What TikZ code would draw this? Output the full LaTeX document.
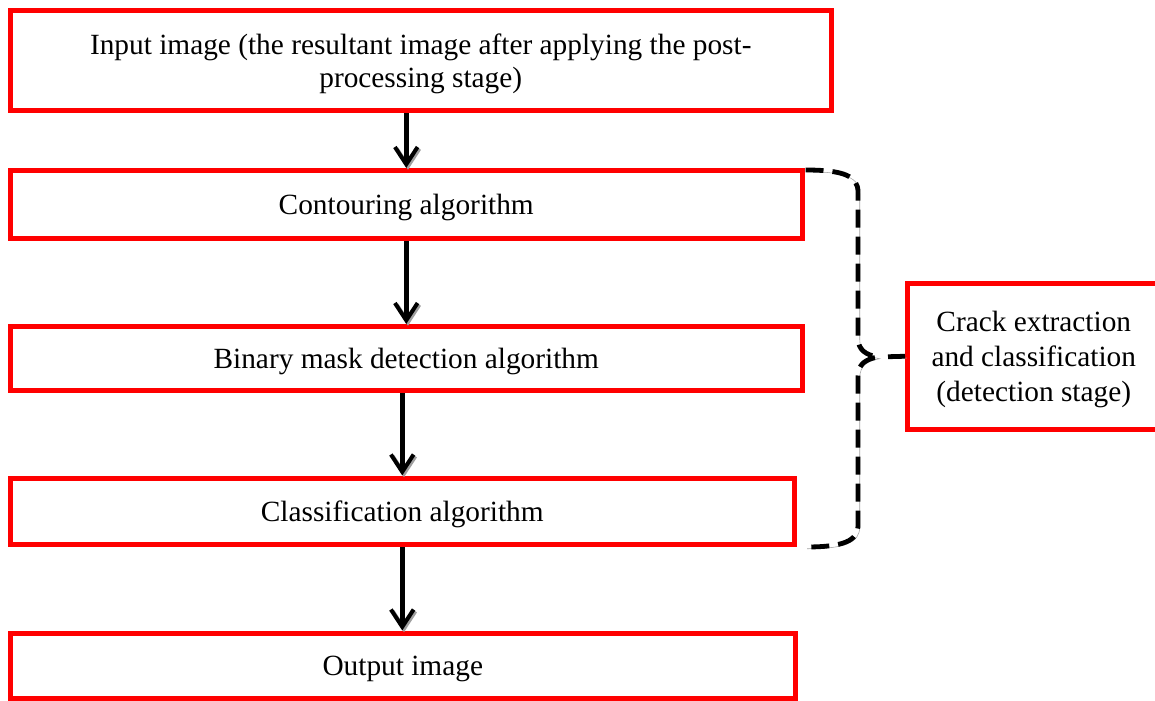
\documentclass[tikz,border=0pt]{standalone}
\usepackage{fontspec}
\setmainfont{Liberation Serif}
\usetikzlibrary{arrows.meta,calc}
\begin{document}
\begin{tikzpicture}[x=0.75pt,y=-0.75pt,
  box/.style={draw=red,line width=3.75pt,inner sep=0pt},
  txt/.style={align=center,inner sep=0pt,yshift=-2.4pt,
    font=\fontsize{22pt}{25pt}\selectfont},
  flow/.style={line width=3.4pt,-{Straight Barb[length=13pt,width=17pt,line width=3pt]},
    preaction={draw=gray!75,transform canvas={xshift=1.3pt,yshift=-1.3pt}}},
  bracestyle/.style={line width=3.6pt,dash pattern=on 13.5pt off 6.75pt,
    preaction={draw=gray!75,transform canvas={xshift=1.3pt,yshift=-1.3pt}}}]
\useasboundingbox (0,0) rectangle (1155,700);

\node[box,minimum width=615.375pt,minimum height=75pt,
  label={[txt]center:Input image (the resultant image after applying the post-\\processing stage)}] (b1) at (420.75,60.5) {};
\node[box,minimum width=593.625pt,minimum height=51pt,
  label={[txt]center:Contouring algorithm}] (b2) at (406.25,204.5) {};
\node[box,minimum width=593.625pt,minimum height=48pt,
  label={[txt]center:Binary mask detection algorithm}] (b3) at (406.25,358.5) {};
\node[box,minimum width=587.625pt,minimum height=49.875pt,
  label={[txt]center:Classification algorithm}] (b4) at (402.25,511.25) {};
\node[box,minimum width=588.375pt,minimum height=48.75pt,
  label={[txt]center:Output image}] (b5) at (402.75,665.5) {};
\node[box,minimum width=189.375pt,minimum height=109.125pt,
  label={[txt,font=\fontsize{22pt}{26pt}\selectfont]center:Crack extraction\\and classification\\(detection stage)}] (side) at (1033.75,356.25) {};

\draw[flow] (b1.south -| b2.north) -- (b2.north);
\draw[flow] (b2.south) -- (b3.north);
\draw[flow] (b3.south -| b4.north) -- (b4.north);
\draw[flow] (b4.south) -- (b5.north -| b4.south);

\coordinate (tip) at (878,357);
\draw[bracestyle] ($(b2.north east)+(1,2)$) .. controls +(38,0) and +(0,-16) .. (858,192)
  -- (858,338) .. controls +(0,12) and +(-12,-2) .. (tip)
  .. controls +(-12,2) and +(0,-12) .. (858,376)
  -- (858,525) .. controls +(0,16) and +(38,0) .. ($(b4.south east -| b2.east)+(1,0)$);
\draw[bracestyle,shorten <=7.5pt] (tip) -- (side.west);
\end{tikzpicture}
\end{document}
